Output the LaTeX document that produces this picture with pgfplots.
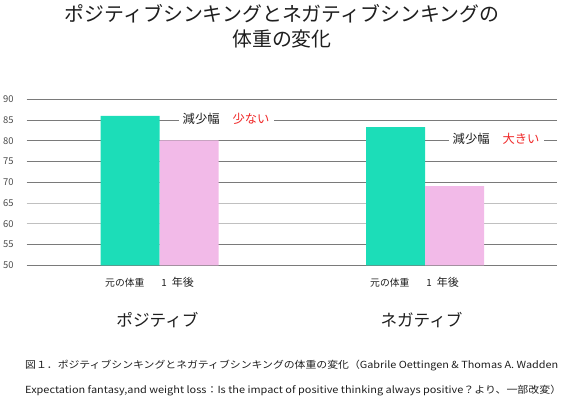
\documentclass[border=0pt]{standalone}
\usepackage{pgfplots}
\pgfplotsset{compat=1.18}
\usepackage{graphicx}
\usepackage{fontspec}
\setmainfont{Noto Sans CJK JP}
\definecolor{barGreen}{RGB}{28,221,184}
\definecolor{barPink}{RGB}{242,186,232}
\definecolor{gridDark}{RGB}{122,122,122}
\definecolor{gridLight}{RGB}{192,192,192}
\definecolor{txt}{RGB}{30,30,30}
\definecolor{redtxt}{RGB}{240,40,40}
\newcommand{\catlabel}{元の体重\hspace{17bp}1\hspace{5bp}{\fontsize{11bp}{12bp}\selectfont 年後}}
\begin{document}
\begin{tikzpicture}
\useasboundingbox (0,0) rectangle (563bp,-397bp);
% title
\node[text=txt, font=\fontsize{19.9bp}{22bp}\selectfont] at (282bp,-14bp) {ポジティブシンキングとネガティブシンキングの};
\node[text=txt, font=\fontsize{19.9bp}{22bp}\selectfont] at (282bp,-39bp) {体重の変化};
\begin{axis}[
  at={(26.7bp,-265.3bp)}, anchor=south west,
  scale only axis, width=530bp, height=166bp,
  xmin=0.4987, xmax=2.4964, ymin=50, ymax=90,
  axis line style={draw=none},
  ybar=0pt, bar width=59bp,
  xtick=\empty,
  ytick={50,55,70,75,80,85,90},
  extra y ticks={60,65},
  extra y tick style={grid style={gridLight, line width=1bp}},
  ymajorgrids,
  grid style={gridDark, line width=1bp},
  major tick length=0pt,
  /pgf/number format/assume math mode=true,
  yticklabel style={font=\fontsize{9.4bp}{10bp}\selectfont, text=txt!80, inner sep=0pt, xshift=-13bp},
  clip=true,
]
\addplot[fill=barGreen, draw=none] coordinates {(1,86) (2,83.3)};
\addplot[fill=barPink, draw=none] coordinates {(1,80.1) (2,69.1)};
\end{axis}
% annotations
\node[fill=white, inner xsep=4bp, inner ysep=1bp, text=txt, font=\fontsize{12.3bp}{14bp}\selectfont, anchor=west] at (178.5bp,-119bp) {減少幅\hspace{13bp}\textcolor{redtxt}{少ない}};
\node[fill=white, inner xsep=4bp, inner ysep=1bp, text=txt, font=\fontsize{12.3bp}{14bp}\selectfont, anchor=west] at (448.5bp,-139.3bp) {減少幅\hspace{13bp}\textcolor{redtxt}{大きい}};
% category labels
\node[text=txt, anchor=west, inner sep=0pt, font=\fontsize{9.8bp}{12bp}\selectfont] at (105bp,-282bp) {\catlabel};
\node[text=txt, anchor=west, inner sep=0pt, font=\fontsize{9.8bp}{12bp}\selectfont] at (370bp,-282bp) {\catlabel};
\node[text=txt, font=\fontsize{16.6bp}{18bp}\selectfont] at (157.5bp,-320bp) {ポジティブ};
\node[text=txt, font=\fontsize{16.6bp}{18bp}\selectfont] at (421.5bp,-320bp) {ネガティブ};
% caption
\node[text=txt, anchor=west, inner sep=0pt, font=\fontsize{9.8bp}{11bp}\selectfont] at (25bp,-366bp) {\resizebox{533bp}{\height}{図１．ポジティブシンキングとネガティブシンキングの体重の変化（Gabrile Oettingen \& Thomas A. Wadden}};
\node[text=txt, anchor=west, inner sep=0pt, font=\fontsize{9.8bp}{11bp}\selectfont] at (25bp,-391bp) {\resizebox{536bp}{\height}{Expectation fantasy,and weight loss：Is the impact of positive thinking always positive？より、一部改変）}};
\end{tikzpicture}
\end{document}
